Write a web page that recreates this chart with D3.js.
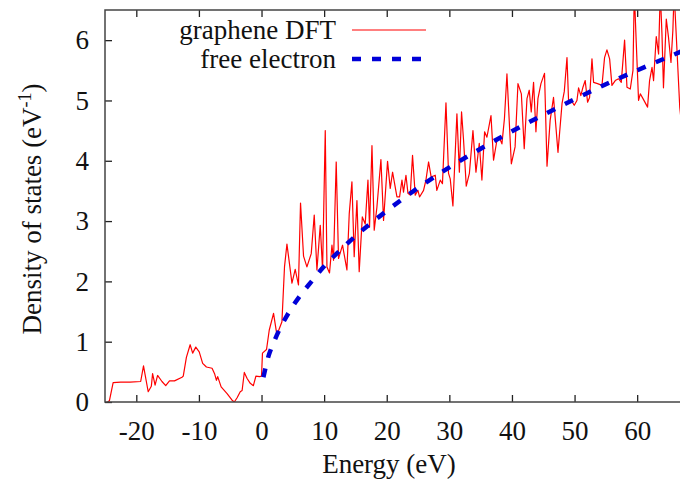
<!DOCTYPE html>
<html>
<head>
<meta charset="utf-8">
<script src="https://cdn.jsdelivr.net/npm/d3@7"></script>
<style>
  html, body { margin: 0; padding: 0; background: #fff; }
  #app { width: 680px; height: 486px; overflow: hidden; }
  svg text { font-family: "Liberation Serif", "DejaVu Serif", "Times New Roman", serif !important; fill: #111; }
</style>
</head>
<body>
<div id="app"></div>
<script>
// graphene DFT density of states (energy in eV, DOS in 1/eV)
const dftEnergy = [
  -24.6, -24.3, -23.7, -22.5, -21, -19.3, -18.85, -18.1, -17.6, -17.4, -17.0, -16.6, -15.9, -15.3,
  -14.7, -13.9, -12.7, -12.5, -12.0, -11.4, -11.0, -10.5, -9.95, -9.4, -8.8, -7.9, -7.5, -7.2, -7.0,
  -6.45, -5.5, -4.7, -4.35, -3.9, -3.4, -3.1, -2.75, -2.3, -1.8, -1.3, -0.9, -0.3, 0.0, 0.15, 0.8,
  1.23, 1.92, 2.46, 3.26, 3.67, 4.06, 4.86, 5.38, 5.9, 6.23, 6.71, 7.25, 7.94, 8.42, 8.85, 9.38,
  9.75, 10.18, 10.45, 10.86, 11.25, 11.5, 11.93, 12.3, 12.94, 13.64, 14.01, 14.44, 14.8, 15.24,
  15.6, 16.1, 16.56, 17.0, 17.25, 17.64, 18.0, 18.43, 19.07, 19.49, 20.13, 20.56, 20.93, 21.63,
  22.05, 22.43, 22.68, 23.07, 23.39, 23.75, 24.12, 24.55, 24.98, 25.24, 25.88, 26.26, 26.68, 27.1,
  27.75, 28.0, 28.55, 28.9, 29.46, 29.87, 30.14, 30.57, 31.21, 31.6, 31.95, 32.27, 32.7, 33.2,
  33.77, 34.25, 34.78, 35.2, 35.63, 36.0, 36.65, 37.06, 37.6, 37.97, 38.4, 38.8, 39.2, 39.9, 40.5,
  40.96, 41.5, 41.96, 42.4, 42.76, 43.08, 43.45, 43.83, 44.15, 44.63, 45.2, 45.6, 46.1, 46.64,
  47.35, 48.0, 48.36, 48.79, 49.04, 49.47, 49.95, 50.38, 50.64, 51.0, 51.34, 51.7, 52.08, 52.4,
  52.78, 53.04, 53.67, 54.38, 54.79, 55.17, 55.6, 55.97, 56.5, 57.03, 57.46, 57.99, 58.37, 58.9,
  59.33, 59.54, 59.86, 60.22, 60.5, 60.93, 61.66, 61.98, 62.37, 62.62, 63.05, 63.42, 63.69, 63.96,
  64.2, 64.65, 65.0, 65.4, 65.7, 65.9, 66.36, 66.8, 67.2
]
const dftDos = [
  0, 0.02, 0.32, 0.33, 0.33, 0.34, 0.60, 0.17, 0.26, 0.47, 0.28, 0.44, 0.34, 0.27,
  0.35, 0.35, 0.41, 0.43, 0.74, 0.95, 0.81, 0.91, 0.83, 0.64, 0.58, 0.56, 0.47, 0.36, 0.42,
  0.25, 0.14, 0.03, 0.0, 0.07, 0.17, 0.19, 0.49, 0.39, 0.31, 0.27, 0.43, 0.42, 0.43, 0.81, 0.87,
  1.19, 1.47, 1.11, 1.33, 2.24, 2.62, 1.97, 2.20, 1.94, 3.30, 2.42, 2.24, 2.46, 3.10, 2.19, 2.93,
  2.19, 4.50, 2.24, 2.14, 2.60, 2.35, 3.98, 2.38, 2.60, 2.19, 3.12, 3.65, 2.41, 3.34,
  2.16, 3.07, 2.95, 3.68, 2.90, 4.25, 2.85, 3.23, 4.02, 3.01, 3.99, 3.54, 3.81, 3.40,
  3.40, 3.68, 3.48, 3.76, 3.46, 3.43, 4.09, 3.43, 3.51, 3.40, 3.51, 3.68, 3.98, 3.73,
  3.76, 3.51, 3.68, 3.62, 4.96, 3.79, 3.70, 3.25, 4.78, 3.81, 4.81, 4.34, 3.58, 3.79,
  4.50, 3.81, 4.29, 3.68, 4.48, 4.39, 4.75, 4.01, 4.34, 4.39, 4.28, 4.70, 5.44, 3.95, 4.23,
  5.28, 5.11, 4.20, 5.03, 5.17, 4.81, 5.30, 4.48, 5.03, 5.28, 5.45, 3.91, 4.67, 5.05,
  4.14, 4.95, 5.15, 5.71, 5.0, 5.0, 4.92, 5.0, 5.21, 5.08, 5.22, 5.33, 4.97, 5.05,
  5.69, 5.30, 5.28, 5.25, 5.71, 5.84, 5.69, 5.25, 5.33, 5.36, 5.30, 6.0, 5.22, 5.19,
  5.50, 6.8, 5.94, 5.0, 5.11, 5.03, 4.89, 5.33, 5.55, 5.33, 6.06, 5.77, 6.8, 6.1,
  5.21, 6.35, 6.05, 5.63, 6.16, 6.8, 5.83, 4.89, 4.5
]

// free electron DOS
const freeEnergy = [0.3, 1, 2, 3, 4, 5, 6, 8, 10, 12, 15, 20, 25, 30, 35, 40, 45, 50, 55, 60, 67]
const freeDos = [0.41, 0.72, 1.0, 1.23, 1.42, 1.59, 1.74, 2.0, 2.25, 2.46, 2.75, 3.17, 3.55, 3.89, 4.2, 4.49, 4.76, 5.02, 5.27, 5.5, 5.81]

const xTicks = [-20, -10, 0, 10, 20, 30, 40, 50, 60]
const xTickLabels = ["-20", "-10", "0", "10", "20", "30", "40", "50", "60"]
const yTicks = [0, 1, 2, 3, 4, 5, 6]
const yTickLabels = ["0", "1", "2", "3", "4", "5", "6"]

const seriesNames = ["graphene DFT", "free electron"]

const serif = '"Liberation Serif", "DejaVu Serif", serif'

//#region dimensions
let dimensions = {
  width: 680,
  height: 486,
  margin: { top: 10, right: -1, bottom: 84, left: 105 },
}
dimensions.boundedWidth = dimensions.width - dimensions.margin.left - dimensions.margin.right
dimensions.boundedHeight = dimensions.height - dimensions.margin.top - dimensions.margin.bottom
//#endregion

//#region canvas
const wrapper = d3.select("#app")
  .append("svg")
    .attr("width", dimensions.width)
    .attr("height", dimensions.height)
    .attr("font-family", serif)

const bounds = wrapper.append("g")
    .attr("transform", `translate(${dimensions.margin.left},${dimensions.margin.top})`)

bounds.append("defs").append("clipPath")
    .attr("id", "plot-clip")
  .append("rect")
    .attr("width", dimensions.boundedWidth)
    .attr("height", dimensions.boundedHeight)
//#endregion

//#region scales
const xScale = d3.scaleLinear()
  .domain([-25, 67])
  .range([0, dimensions.boundedWidth])

const yScale = d3.scaleLinear()
  .domain([0, 6.5])
  .range([dimensions.boundedHeight, 0])
//#endregion

//#region data
const dftData = dftEnergy.map((e, i) => ({ x: e, y: dftDos[i] }))
const freeData = freeEnergy.map((e, i) => ({ x: e, y: freeDos[i] }))

const lineGen = d3.line()
  .x(d => xScale(d.x))
  .y(d => yScale(d.y))

const smoothLine = d3.line()
  .x(d => xScale(d.x))
  .y(d => yScale(d.y))
  .curve(d3.curveMonotoneX)

const plot = bounds.append("g")
    .attr("clip-path", "url(#plot-clip)")

plot.append("path")
    .datum(dftData)
    .attr("d", lineGen)
    .attr("fill", "none")
    .attr("stroke", "#ff0000")
    .attr("stroke-width", 1.2)
    .attr("stroke-linejoin", "round")

plot.append("path")
    .datum(freeData)
    .attr("d", smoothLine)
    .attr("fill", "none")
    .attr("stroke", "#0000d8")
    .attr("stroke-width", 4.5)
    .attr("stroke-dasharray", "9 11")
//#endregion

//#region axes
const xAxis = bounds.append("g")
    .attr("transform", `translate(0,${dimensions.boundedHeight})`)
    .call(d3.axisBottom(xScale)
      .tickValues(xTicks)
      .tickFormat((d, i) => xTickLabels[i])
      .tickSize(-7)
      .tickPadding(19))

const xAxisTop = bounds.append("g")
    .call(d3.axisTop(xScale)
      .tickValues(xTicks)
      .tickFormat("")
      .tickSize(-7))

const yAxis = bounds.append("g")
    .call(d3.axisLeft(yScale)
      .tickValues(yTicks)
      .tickFormat((d, i) => yTickLabels[i])
      .tickSize(-7)
      .tickPadding(16))

bounds.selectAll("g").attr("font-family", serif)
bounds.selectAll(".domain").remove()
bounds.selectAll(".tick line")
    .attr("stroke", "#222")
    .attr("stroke-width", 1.3)
bounds.selectAll(".tick text")
    .attr("fill", "#111")
    .style("font-size", "27px")

bounds.append("rect")
    .attr("width", dimensions.boundedWidth)
    .attr("height", dimensions.boundedHeight)
    .attr("fill", "none")
    .attr("stroke", "#444")
    .attr("stroke-width", 1.5)

bounds.append("text")
    .attr("x", dimensions.boundedWidth / 2 - 4)
    .attr("y", dimensions.boundedHeight + 71)
    .attr("text-anchor", "middle")
    .style("font-size", "27px")
    .text("Energy (eV)")

const yLabel = wrapper.append("text")
    .attr("transform", `translate(41,209) rotate(-90)`)
    .attr("text-anchor", "middle")
    .style("font-size", "27px")
yLabel.append("tspan").text("Density of states (eV")
yLabel.append("tspan")
    .attr("dy", -10)
    .style("font-size", "18px")
    .text("-1")
yLabel.append("tspan")
    .attr("dy", 10)
    .text(")")
//#endregion

//#region legend
const legend = wrapper.append("g")
const legendRows = [
  { name: seriesNames[0], y: 30, color: "#ff0000", width: 1.2, dash: null },
  { name: seriesNames[1], y: 59, color: "#0000d8", width: 4.5, dash: "9 11" },
]
legendRows.forEach(r => {
  legend.append("text")
      .attr("x", 336)
      .attr("y", r.y + 9)
      .attr("text-anchor", "end")
      .style("font-size", "27px")
      .text(r.name)
  legend.append("line")
      .attr("x1", 352)
      .attr("x2", 426)
      .attr("y1", r.y)
      .attr("y2", r.y)
      .attr("stroke", r.color)
      .attr("stroke-width", r.width)
      .attr("stroke-dasharray", r.dash)
})
//#endregion
</script>
</body>
</html>
